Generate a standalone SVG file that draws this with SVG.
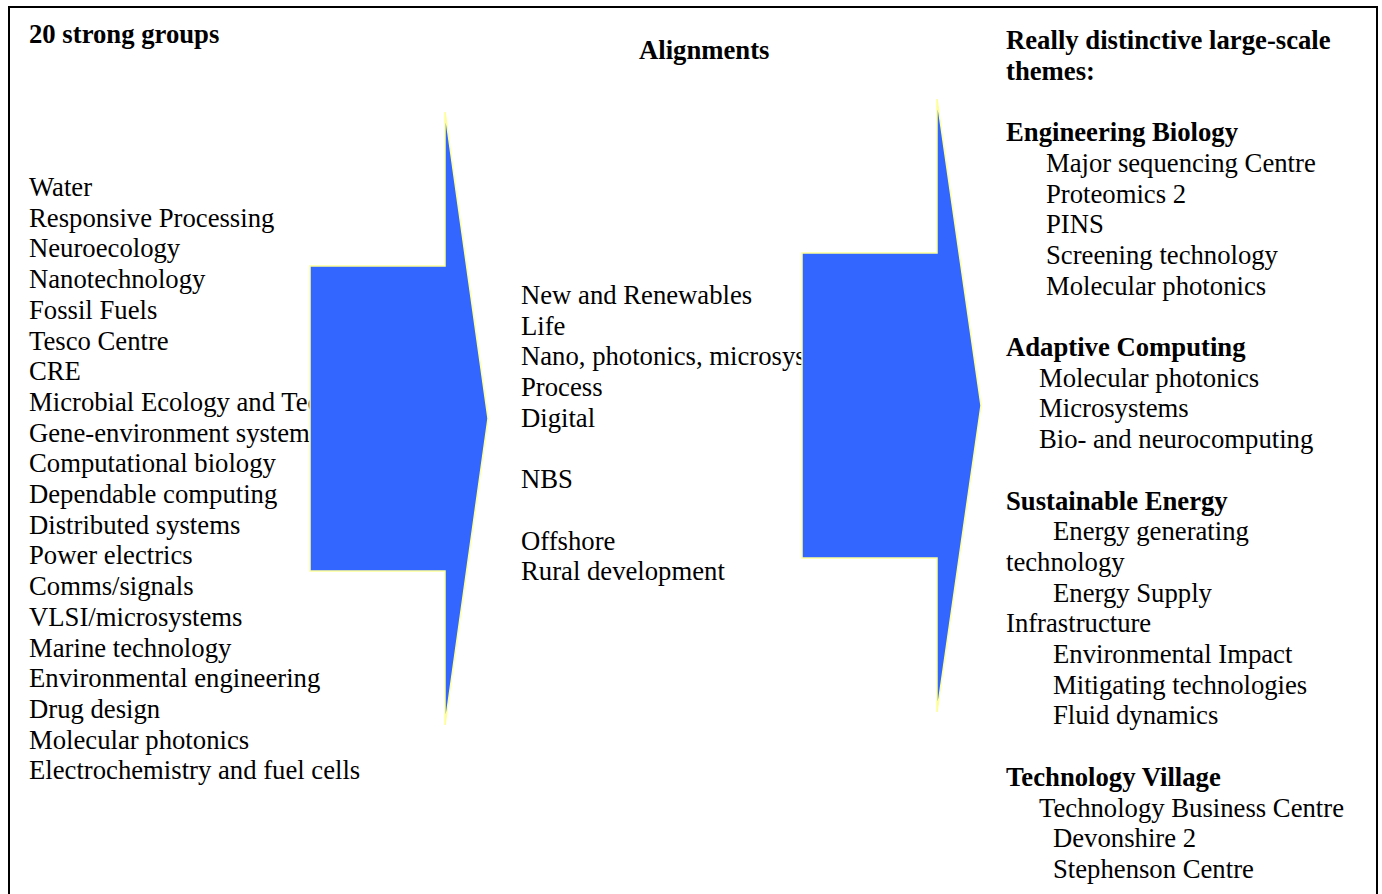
<svg xmlns="http://www.w3.org/2000/svg" width="1382" height="894" viewBox="0 0 1382 894">
  <style>
    text { font-family: "Liberation Serif", "Times New Roman", serif; font-size: 26.7px; fill: #000; }
    .hd { font-weight: bold; }
    .arrow { fill: #3366FF; stroke: #FFFF99; stroke-width: 1.5; stroke-linejoin: miter; }
  </style>
  <rect x="0" y="0" width="1382" height="894" fill="#fff"/>
  <!-- frame, open at the bottom -->
  <path d="M9,900 V7 H1377 V900" fill="none" stroke="#000" stroke-width="2"/>

  <!-- left column: groups -->
  <g id="groups" transform="translate(0,1)">
    <text class="hd" x="29" y="42">20 strong groups</text>
    <text x="29" y="195">Water</text>
    <text x="29" y="225.7">Responsive Processing</text>
    <text x="29" y="256.4">Neuroecology</text>
    <text x="29" y="287.1">Nanotechnology</text>
    <text x="29" y="317.8">Fossil Fuels</text>
    <text x="29" y="348.5">Tesco Centre</text>
    <text x="29" y="379.2">CRE</text>
    <text x="29" y="409.9">Microbial Ecology and Technology</text>
    <text x="29" y="440.6">Gene-environment systems</text>
    <text x="29" y="471.3">Computational biology</text>
    <text x="29" y="502">Dependable computing</text>
    <text x="29" y="532.7">Distributed systems</text>
    <text x="29" y="563.4">Power electrics</text>
    <text x="29" y="594.1">Comms/signals</text>
    <text x="29" y="624.8">VLSI/microsystems</text>
    <text x="29" y="655.5">Marine technology</text>
    <text x="29" y="686.2">Environmental engineering</text>
    <text x="29" y="716.9">Drug design</text>
    <text x="29" y="747.6">Molecular photonics</text>
    <text x="29" y="778.3">Electrochemistry and fuel cells</text>
  </g>

  <!-- middle column: alignments -->
  <g id="alignments" transform="translate(0,1)">
    <text class="hd" x="639" y="58">Alignments</text>
    <text x="521" y="303">New and Renewables</text>
    <text x="521" y="333.7">Life</text>
    <text x="521" y="364.4">Nano, photonics, microsystems</text>
    <text x="521" y="395.1">Process</text>
    <text x="521" y="425.8">Digital</text>
    <text x="521" y="487.2">NBS</text>
    <text x="521" y="548.6">Offshore</text>
    <text x="521" y="579.3">Rural development</text>
  </g>

  <!-- right column: themes -->
  <g id="themes" transform="translate(0,1)">
    <text class="hd" x="1006" y="48">Really distinctive large-scale</text>
    <text class="hd" x="1006" y="78.7">themes:</text>
    <text class="hd" x="1006" y="140.1">Engineering Biology</text>
    <text x="1046" y="170.8">Major sequencing Centre</text>
    <text x="1046" y="201.5">Proteomics 2</text>
    <text x="1046" y="232.2">PINS</text>
    <text x="1046" y="262.9">Screening technology</text>
    <text x="1046" y="293.6">Molecular photonics</text>
    <text class="hd" x="1006" y="355">Adaptive Computing</text>
    <text x="1039" y="385.7">Molecular photonics</text>
    <text x="1039" y="416.4">Microsystems</text>
    <text x="1039" y="447.1">Bio- and neurocomputing</text>
    <text class="hd" x="1006" y="508.5">Sustainable Energy</text>
    <text x="1053" y="539.2">Energy generating</text>
    <text x="1006" y="569.9">technology</text>
    <text x="1053" y="600.6">Energy Supply</text>
    <text x="1006" y="631.3">Infrastructure</text>
    <text x="1053" y="662">Environmental Impact</text>
    <text x="1053" y="692.7">Mitigating technologies</text>
    <text x="1053" y="723.4">Fluid dynamics</text>
    <text class="hd" x="1006" y="784.8">Technology Village</text>
    <text x="1039" y="815.5">Technology Business Centre</text>
    <text x="1053" y="846.2">Devonshire 2</text>
    <text x="1053" y="876.9">Stephenson Centre</text>
  </g>

  <!-- block arrows, drawn over the columns -->
  <g id="connectors">
    <polygon id="arrow-1" class="arrow" points="310,266 445,266 445,112 488,418.5 445,725 445,571 310,571"/>
    <polygon id="arrow-2" class="arrow" points="802,253 937,253 937,99 981,405.5 937,712 937,558 802,558"/>
  </g>
</svg>
